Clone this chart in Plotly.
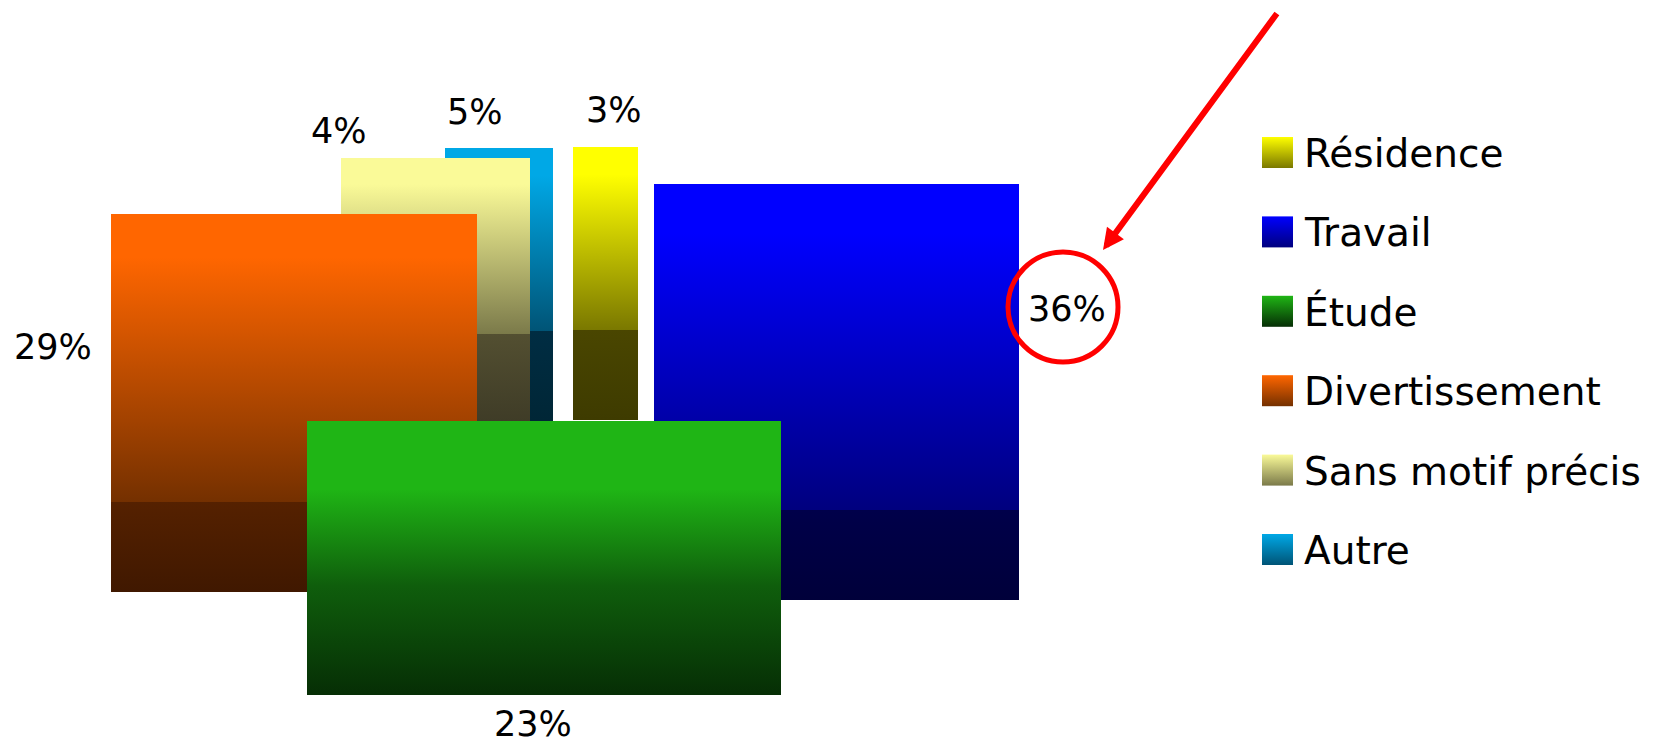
import plotly.graph_objects as go

# ---- data ----
labels = ["Résidence", "Travail", "Étude", "Divertissement", "Sans motif précis", "Autre"]
percents = [3, 36, 23, 29, 4, 5]

# ---- styles: (top colour, colour at band edge, band top colour, bottom colour) ----
colors = {
    "Résidence": ["#FFFF00", "#7A7800", "#4A4600", "#3E3B00"],
    "Travail": ["#0000FF", "#00007E", "#00004A", "#00003A"],
    "Étude": ["#1FB515", "#0F5E0C", "#0F5E0C", "#062E05"],
    "Divertissement": ["#FF6600", "#743000", "#552100", "#401800"],
    "Sans motif précis": ["#FAFA98", "#7B7A4A", "#534F31", "#3F3C27"],
    "Autre": ["#00A8E6", "#005476", "#002D43", "#002636"],
}

# ---- geometry (pixel layout of the picture) ----
# x0, x1, y_top, y_band, y_bottom
boxes = {
    "Autre": (445, 553, 148, 331, 421),
    "Sans motif précis": (341, 530, 158, 334, 421),
    "Résidence": (573, 638, 147, 330, 420),
    "Divertissement": (111, 477, 214, 502, 592),
    "Travail": (654, 1019, 184, 510, 600),
    "Étude": (307, 781, 421, 590, 695),
}
label_pos = {
    "Résidence": (614, 110),
    "Travail": (1067, 309),
    "Étude": (533, 724),
    "Divertissement": (53, 347),
    "Sans motif précis": (339, 131),
    "Autre": (475, 112),
}
draw_order = ["Autre", "Sans motif précis", "Résidence", "Divertissement", "Travail", "Étude"]

W, H = 1671, 746
fig = go.Figure()


def grad_rect(x0, x1, yt, yb, cs):
    return go.Scatter(
        x=[x0, x1, x1, x0, x0], y=[yt, yt, yb, yb, yt],
        mode="lines", line=dict(width=0), fill="toself",
        fillgradient=dict(type="vertical", colorscale=cs, start=yt, stop=yb),
        hoverinfo="skip", showlegend=False,
    )


for name in draw_order:
    x0, x1, yt, yband, yb = boxes[name]
    c = colors[name]
    if name == "Étude":
        cs = [[0, c[0]], [0.25, c[0]], [0.6, c[1]], [1, c[3]]]
        fig.add_trace(grad_rect(x0, x1, yt, yb, cs))
    else:
        cs_top = [[0, c[0]], [0.15, c[0]], [1, c[1]]]
        fig.add_trace(grad_rect(x0, x1, yt, yband, cs_top))
        fig.add_trace(grad_rect(x0, x1, yband, yb, [[0, c[2]], [1, c[3]]]))

# percentage labels
for name, p in zip(labels, percents):
    lx, ly = label_pos[name]
    fig.add_annotation(x=lx, y=ly, text=f"{p}%", showarrow=False,
                       font=dict(family="DejaVu Sans", size=35, color="#000000"),
                       xanchor="center", yanchor="middle")

# legend (manual)
leg_x0, leg_sq, leg_y0, leg_dy = 1262, 31, 137, 79.4
for i, name in enumerate(labels):
    yt = leg_y0 + i * leg_dy
    c = colors[name]
    fig.add_trace(grad_rect(leg_x0, leg_x0 + leg_sq, yt, yt + leg_sq,
                            [[0, c[0]], [1, c[1] if name != "Étude" else c[3]]]))
    fig.add_annotation(x=leg_x0 + leg_sq + 9, y=yt + leg_sq / 2 + 1, text=name,
                       showarrow=False, xanchor="left", yanchor="middle",
                       font=dict(family="DejaVu Sans", size=39, color="#000000"))

# highlight circle and arrow
fig.add_shape(type="circle", x0=1063 - 55, x1=1063 + 55, y0=307 - 55, y1=307 + 55,
              line=dict(color="#FF0000", width=5), layer="above")
fig.add_annotation(x=1103, y=250, ax=1278, ay=12, axref="x", ayref="y",
                   xref="x", yref="y", showarrow=True, arrowhead=2, arrowsize=0.7,
                   arrowwidth=6, arrowcolor="#FF0000", text="")

fig.update_xaxes(range=[0, W], visible=False, fixedrange=True)
fig.update_yaxes(range=[H, 0], visible=False, fixedrange=True)
fig.update_layout(width=W, height=H, margin=dict(l=0, r=0, t=0, b=0),
                  paper_bgcolor="white", plot_bgcolor="white", showlegend=False)

fig.write_html("out.html", config={"displayModeBar": False})
